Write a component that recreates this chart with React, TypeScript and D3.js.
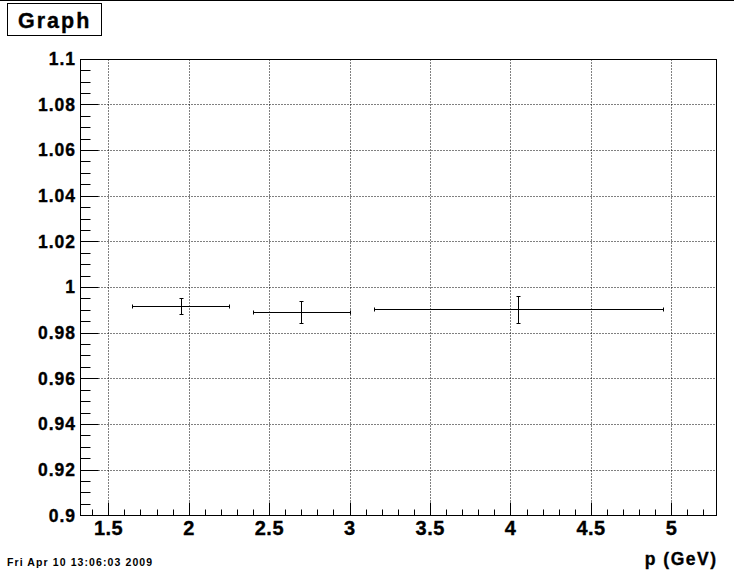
import React from "react";
import * as d3 from "d3";

const W = 734;
const H = 573;

// data
const xVals = [1.95, 2.7, 4.05];
const xErr = [0.3, 0.3, 0.9];
const yVals = [0.9917, 0.9889, 0.9902];
const yErr = [0.0037, 0.0048, 0.0059];

const xTicks = [1.5, 2, 2.5, 3, 3.5, 4, 4.5, 5];
const xTickLabels = ["1.5", "2", "2.5", "3", "3.5", "4", "4.5", "5"];
const yTicks = [0.9, 0.92, 0.94, 0.96, 0.98, 1.0, 1.02, 1.04, 1.06, 1.08, 1.1];
const yTickLabels = ["0.9", "0.92", "0.94", "0.96", "0.98", "1", "1.02", "1.04", "1.06", "1.08", "1.1"];

const title = "Graph";
const xTitle = "p (GeV)";
const dateText = "Fri Apr 10 13:06:03 2009";

const FONT = "'Liberation Sans', Arial, Helvetica, sans-serif";

export default function App() {
  const left = 80, right = 716, top = 58.7, bottom = 515.3;
  const x = d3.scaleLinear().domain([1.324, 5.278]).range([left, right]);
  const y = d3.scaleLinear().domain([0.9, 1.1]).range([bottom, top]);

  const xMinor: number[] = [];
  for (let v = 1.4; v <= 5.28; v += 0.1) {
    const r = Math.round(v * 10) / 10;
    if (r >= 1.324 && r <= 5.278) xMinor.push(r);
  }
  const yMinor: number[] = [];
  for (let i = 0; i <= 40; i++) yMinor.push(0.9 + i * 0.005);

  const px = (v: number) => Math.round(x(v)) + 0.5;
  const py = (v: number) => Math.round(y(v)) + 0.5;
  const L = Math.round(left) + 0.5, R = Math.round(right) + 0.5;
  const T = Math.round(top) + 0.5, B = Math.round(bottom) + 0.5;

  const ySp = 1.0;
  const xSp = 0.5;
  const sw = 0.35;

  return (
    <svg width={W} height={H} style={{ position: "absolute", left: 0, top: 0, background: "#fff" }}>
      <rect x={0} y={0} width={W} height={H} fill="#fff" />
      <line x1={0} x2={W} y1={0.5} y2={0.5} stroke="#000" strokeWidth={1} />
      {/* title box */}
      <rect x={7.5} y={3.5} width={94} height={32} fill="#fff" stroke="#000" strokeWidth={1} />
      <text x={18} y={27.5} fontFamily={FONT} fontWeight="bold" fontSize={21.5} letterSpacing={2} stroke="#000" strokeWidth={sw}>{title}</text>

      {/* grid */}
      <g stroke="#000" strokeWidth={1} strokeDasharray="1,2">
        {xTicks.map((t, i) => (
          <line key={"gx" + i} x1={px(t)} x2={px(t)} y1={T} y2={B} />
        ))}
        {yTicks.slice(1, -1).map((t, i) => (
          <line key={"gy" + i} x1={L} x2={R} y1={py(t)} y2={py(t)} />
        ))}
      </g>

      {/* ticks */}
      <g stroke="#000" strokeWidth={1}>
        {xMinor.map((t, i) => (
          <line key={"xm" + i} x1={px(t)} x2={px(t)} y1={B} y2={B - 6} />
        ))}
        {xTicks.map((t, i) => (
          <line key={"xM" + i} x1={px(t)} x2={px(t)} y1={B} y2={B - 13} />
        ))}
        {yMinor.map((t, i) => (
          <line key={"ym" + i} x1={L} x2={L + 10} y1={py(t)} y2={py(t)} />
        ))}
        {yTicks.map((t, i) => (
          <line key={"yM" + i} x1={L} x2={L + 18} y1={py(t)} y2={py(t)} />
        ))}
      </g>

      {/* frame */}
      <rect x={L} y={T} width={R - L} height={B - T} fill="none" stroke="#000" strokeWidth={1} />

      {/* tick labels */}
      <g fontFamily={FONT} fontWeight="bold" fill="#000" stroke="#000" strokeWidth={sw}>
        {xTicks.map((t, i) => (
          <text key={"xl" + i} x={x(t) + xSp / 2} y={534.5} textAnchor="middle" fontSize={20} letterSpacing={xSp}>{xTickLabels[i]}</text>
        ))}
        {yTicks.map((t, i) => (
          <text key={"yl" + i} x={75 + ySp} y={y(t) + 6.3} textAnchor="end" fontSize={17.5} letterSpacing={ySp}>{yTickLabels[i]}</text>
        ))}
      </g>

      <text x={716 + 1.5} y={565} textAnchor="end" fontFamily={FONT} fontWeight="bold" fontSize={17.5} letterSpacing={1.5} stroke="#000" strokeWidth={sw}>{xTitle}</text>
      <text x={7} y={566} fontFamily={FONT} fontWeight="bold" fontSize={10.5} letterSpacing={1.1}>{dateText}</text>

      {/* data points */}
      <g stroke="#000" strokeWidth={1} fill="none">
        {xVals.map((xv, i) => {
          const cx = px(xv), cy = py(yVals[i]);
          const x0 = px(xv - xErr[i]), x1 = px(xv + xErr[i]);
          const y0 = py(yVals[i] + yErr[i]), y1 = py(yVals[i] - yErr[i]);
          return (
            <g key={"p" + i}>
              <line x1={x0} x2={x1} y1={cy} y2={cy} />
              <line x1={x0} x2={x0} y1={cy - 2} y2={cy + 2} />
              <line x1={x1} x2={x1} y1={cy - 2} y2={cy + 2} />
              <line x1={cx} x2={cx} y1={y0} y2={y1} />
              <line x1={cx - 2} x2={cx + 2} y1={y0} y2={y0} />
              <line x1={cx - 2} x2={cx + 2} y1={y1} y2={y1} />
            </g>
          );
        })}
      </g>
    </svg>
  );
}
